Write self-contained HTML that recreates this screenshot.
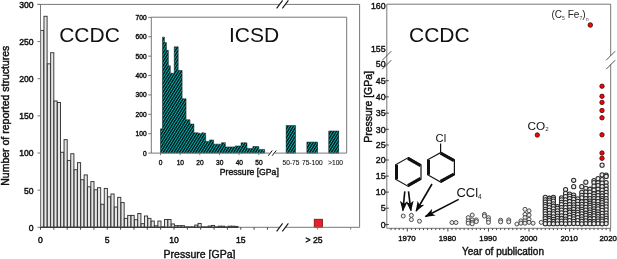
<!DOCTYPE html>
<html><head><meta charset="utf-8"><title>chart</title>
<style>html,body{margin:0;padding:0;background:#fff;}body{width:617px;height:259px;overflow:hidden;font-family:"Liberation Sans",sans-serif;}svg{display:block;will-change:transform;}svg text{font-family:"Liberation Sans",sans-serif;}</style>
</head><body>
<svg width="617" height="259" viewBox="0 0 617 259" >
<defs>
<pattern id="hatch" width="2.3" height="2.3" patternUnits="userSpaceOnUse" patternTransform="rotate(32)"><rect width="2.3" height="2.3" fill="#00b8b8"/><rect width="1.35" height="2.3" fill="#041010"/></pattern>
<marker id="ah" markerWidth="12" markerHeight="9" refX="9.5" refY="4.5" orient="auto" markerUnits="userSpaceOnUse"><path d="M0,0.6 L10.5,4.5 L0,8.4 L2.8,4.5 Z" fill="#0a0a0a"/></marker>
</defs>
<rect width="617" height="259" fill="#fff"/>
<g stroke="#333" stroke-width="0.95" fill="#e6e6e6">
<rect x="40.60" y="30.41" width="3.15" height="196.90"/>
<rect x="43.95" y="16.29" width="3.15" height="211.01"/>
<rect x="47.30" y="63.84" width="3.15" height="163.46"/>
<rect x="50.65" y="52.70" width="3.15" height="174.60"/>
<rect x="54.00" y="100.99" width="3.15" height="126.31"/>
<rect x="57.35" y="102.48" width="3.15" height="124.82"/>
<rect x="60.70" y="152.26" width="3.15" height="75.04"/>
<rect x="64.05" y="139.63" width="3.15" height="87.67"/>
<rect x="67.40" y="160.43" width="3.15" height="66.87"/>
<rect x="70.75" y="153.74" width="3.15" height="73.56"/>
<rect x="74.10" y="169.72" width="3.15" height="57.58"/>
<rect x="77.45" y="162.66" width="3.15" height="64.64"/>
<rect x="80.80" y="179.75" width="3.15" height="47.55"/>
<rect x="84.15" y="174.92" width="3.15" height="52.38"/>
<rect x="87.50" y="186.81" width="3.15" height="40.49"/>
<rect x="90.85" y="181.61" width="3.15" height="45.69"/>
<rect x="94.20" y="189.78" width="3.15" height="37.52"/>
<rect x="97.55" y="187.70" width="3.15" height="39.60"/>
<rect x="100.90" y="204.27" width="3.15" height="23.03"/>
<rect x="104.25" y="188.44" width="3.15" height="38.86"/>
<rect x="107.60" y="196.84" width="3.15" height="30.46"/>
<rect x="110.95" y="194.01" width="3.15" height="33.29"/>
<rect x="114.30" y="207.02" width="3.15" height="20.28"/>
<rect x="117.65" y="197.36" width="3.15" height="29.94"/>
<rect x="121.00" y="202.56" width="3.15" height="24.74"/>
<rect x="124.35" y="218.38" width="3.15" height="8.92"/>
<rect x="127.70" y="215.41" width="3.15" height="11.89"/>
<rect x="131.05" y="215.41" width="3.15" height="11.89"/>
<rect x="134.40" y="219.72" width="3.15" height="7.58"/>
<rect x="137.75" y="213.48" width="3.15" height="13.82"/>
<rect x="141.10" y="223.66" width="3.15" height="3.64"/>
<rect x="144.45" y="216.01" width="3.15" height="11.29"/>
<rect x="147.80" y="218.38" width="3.15" height="8.92"/>
<rect x="151.15" y="221.06" width="3.15" height="6.24"/>
<rect x="154.50" y="225.81" width="3.15" height="1.49"/>
<rect x="157.85" y="221.06" width="3.15" height="6.24"/>
<rect x="161.20" y="226.85" width="3.15" height="0.45"/>
<rect x="164.55" y="219.50" width="3.15" height="7.80"/>
<rect x="167.90" y="219.50" width="3.15" height="7.80"/>
<rect x="171.25" y="223.96" width="3.15" height="3.34"/>
<rect x="174.60" y="225.67" width="3.15" height="1.63"/>
<rect x="177.95" y="225.67" width="3.15" height="1.63"/>
<rect x="181.30" y="225.67" width="3.15" height="1.63"/>
<rect x="184.65" y="226.93" width="3.15" height="0.37"/>
<rect x="188.00" y="226.93" width="3.15" height="0.37"/>
<rect x="191.35" y="226.93" width="3.15" height="0.37"/>
<rect x="194.70" y="225.07" width="3.15" height="2.23"/>
<rect x="198.05" y="223.44" width="3.15" height="3.86"/>
<rect x="201.40" y="227.00" width="3.15" height="0.30"/>
<rect x="204.75" y="227.00" width="3.15" height="0.30"/>
<rect x="208.10" y="226.04" width="3.15" height="1.26"/>
<rect x="211.45" y="225.44" width="3.15" height="1.86"/>
<rect x="214.80" y="227.00" width="3.15" height="0.30"/>
<rect x="218.15" y="226.19" width="3.15" height="1.11"/>
<rect x="221.50" y="226.19" width="3.15" height="1.11"/>
<rect x="224.85" y="227.00" width="3.15" height="0.30"/>
<rect x="228.20" y="226.19" width="3.15" height="1.11"/>
<rect x="231.55" y="226.19" width="3.15" height="1.11"/>
<rect x="234.90" y="226.41" width="3.15" height="0.89"/>
</g>
<rect x="314.2" y="219.2" width="8.4" height="8.1" fill="#ee1c25" stroke="#5a1010" stroke-width="0.7"/>
<line x1="40.50" y1="4.40" x2="40.50" y2="227.30" stroke="#777" stroke-width="1" />
<line x1="40.50" y1="227.30" x2="279.50" y2="227.30" stroke="#777" stroke-width="1" />
<line x1="40.50" y1="227.30" x2="238.00" y2="227.30" stroke="#2a2a2a" stroke-width="1.1" />
<line x1="285.50" y1="227.30" x2="359.60" y2="227.30" stroke="#777" stroke-width="1" />
<line x1="37.50" y1="4.40" x2="279.50" y2="4.40" stroke="#777" stroke-width="1" />
<line x1="285.50" y1="4.40" x2="359.60" y2="4.40" stroke="#777" stroke-width="1" />
<line x1="359.60" y1="4.40" x2="359.60" y2="227.30" stroke="#777" stroke-width="1" />
<line x1="276.60" y1="8.40" x2="282.60" y2="0.40" stroke="#111" stroke-width="1.1" />
<line x1="282.40" y1="8.40" x2="288.40" y2="0.40" stroke="#111" stroke-width="1.1" />
<line x1="276.60" y1="231.30" x2="282.60" y2="223.30" stroke="#111" stroke-width="1.1" />
<line x1="282.40" y1="231.30" x2="288.40" y2="223.30" stroke="#111" stroke-width="1.1" />
<line x1="37.50" y1="227.30" x2="40.50" y2="227.30" stroke="#777" stroke-width="1" />
<text x="33.60" y="230.75" font-size="8.6" text-anchor="end" fill="#111" stroke="#111" stroke-width="0.45" >0</text>
<line x1="37.50" y1="190.15" x2="40.50" y2="190.15" stroke="#777" stroke-width="1" />
<text x="33.60" y="193.54" font-size="8.6" text-anchor="end" fill="#111" stroke="#111" stroke-width="0.45" >50</text>
<line x1="37.50" y1="153.00" x2="40.50" y2="153.00" stroke="#777" stroke-width="1" />
<text x="33.60" y="156.33" font-size="8.6" text-anchor="end" fill="#111" stroke="#111" stroke-width="0.45" >100</text>
<line x1="37.50" y1="115.85" x2="40.50" y2="115.85" stroke="#777" stroke-width="1" />
<text x="33.60" y="119.12" font-size="8.6" text-anchor="end" fill="#111" stroke="#111" stroke-width="0.45" >150</text>
<line x1="37.50" y1="78.70" x2="40.50" y2="78.70" stroke="#777" stroke-width="1" />
<text x="33.60" y="81.91" font-size="8.6" text-anchor="end" fill="#111" stroke="#111" stroke-width="0.45" >200</text>
<line x1="37.50" y1="41.55" x2="40.50" y2="41.55" stroke="#777" stroke-width="1" />
<text x="33.60" y="44.70" font-size="8.6" text-anchor="end" fill="#111" stroke="#111" stroke-width="0.45" >250</text>
<line x1="37.50" y1="4.40" x2="40.50" y2="4.40" stroke="#777" stroke-width="1" />
<text x="33.60" y="7.49" font-size="8.6" text-anchor="end" fill="#111" stroke="#111" stroke-width="0.45" >300</text>
<line x1="40.50" y1="227.30" x2="40.50" y2="229.70" stroke="#444" stroke-width="1" />
<line x1="53.85" y1="227.30" x2="53.85" y2="229.70" stroke="#444" stroke-width="1" />
<line x1="67.20" y1="227.30" x2="67.20" y2="229.70" stroke="#444" stroke-width="1" />
<line x1="80.55" y1="227.30" x2="80.55" y2="229.70" stroke="#444" stroke-width="1" />
<line x1="93.90" y1="227.30" x2="93.90" y2="229.70" stroke="#444" stroke-width="1" />
<line x1="107.25" y1="227.30" x2="107.25" y2="229.70" stroke="#444" stroke-width="1" />
<line x1="120.60" y1="227.30" x2="120.60" y2="229.70" stroke="#444" stroke-width="1" />
<line x1="133.95" y1="227.30" x2="133.95" y2="229.70" stroke="#444" stroke-width="1" />
<line x1="147.30" y1="227.30" x2="147.30" y2="229.70" stroke="#444" stroke-width="1" />
<line x1="160.65" y1="227.30" x2="160.65" y2="229.70" stroke="#444" stroke-width="1" />
<line x1="174.00" y1="227.30" x2="174.00" y2="229.70" stroke="#444" stroke-width="1" />
<line x1="187.35" y1="227.30" x2="187.35" y2="229.70" stroke="#444" stroke-width="1" />
<line x1="200.70" y1="227.30" x2="200.70" y2="229.70" stroke="#444" stroke-width="1" />
<line x1="214.05" y1="227.30" x2="214.05" y2="229.70" stroke="#444" stroke-width="1" />
<line x1="227.40" y1="227.30" x2="227.40" y2="229.70" stroke="#444" stroke-width="1" />
<line x1="240.75" y1="227.30" x2="240.75" y2="229.70" stroke="#444" stroke-width="1" />
<line x1="254.10" y1="227.30" x2="254.10" y2="229.70" stroke="#444" stroke-width="1" />
<line x1="267.45" y1="227.30" x2="267.45" y2="229.70" stroke="#444" stroke-width="1" />
<line x1="317.40" y1="227.30" x2="317.40" y2="229.50" stroke="#777" stroke-width="1" />
<line x1="350.70" y1="227.30" x2="350.70" y2="229.50" stroke="#777" stroke-width="1" />
<text x="40.50" y="243.00" font-size="8.6" text-anchor="middle" fill="#111" stroke="#111" stroke-width="0.45" >0</text>
<text x="107.25" y="243.00" font-size="8.6" text-anchor="middle" fill="#111" stroke="#111" stroke-width="0.45" >5</text>
<text x="174.00" y="243.00" font-size="8.6" text-anchor="middle" fill="#111" stroke="#111" stroke-width="0.45" >10</text>
<text x="240.75" y="243.00" font-size="8.6" text-anchor="middle" fill="#111" stroke="#111" stroke-width="0.45" >15</text>
<text x="314.00" y="243.00" font-size="8.6" text-anchor="middle" fill="#111" stroke="#111" stroke-width="0.45" >&gt; 25</text>
<text x="199.50" y="257.60" font-size="10.5" text-anchor="middle" fill="#111" stroke="#111" stroke-width="0.4" >Pressure [GPa]</text>
<text transform="translate(8.5,115.7) rotate(-90)" font-size="10.5" text-anchor="middle" fill="#111" stroke="#111" stroke-width="0.45">Number of reported structures</text>
<text x="59.20" y="42.30" font-size="21" text-anchor="start" fill="#111" stroke="#111" stroke-width="0" >CCDC</text>
<g fill="url(#hatch)" stroke="#061414" stroke-width="0.5">
<polygon points="160.50,153.10 160.50,128.86 162.47,128.86 162.47,37.15 164.43,37.15 164.43,42.58 166.40,42.58 166.40,50.33 168.36,50.33 168.36,65.84 170.33,65.84 170.32,73.21 172.29,73.21 172.29,73.21 174.25,73.21 174.25,46.84 176.22,46.84 176.22,46.84 178.19,46.84 178.19,70.50 180.15,70.50 180.15,70.50 182.12,70.50 182.12,98.81 184.08,98.81 184.08,98.81 186.05,98.81 186.05,119.75 188.01,119.75 188.01,119.75 189.97,119.75 189.97,124.01 191.94,124.01 191.94,124.01 193.91,124.01 193.91,132.74 195.87,132.74 195.87,132.74 197.84,132.74 197.84,133.13 199.80,133.13 199.80,133.71 201.77,133.71 201.76,132.74 203.73,132.74 203.73,133.13 205.70,133.13 205.69,141.47 207.66,141.47 207.66,141.47 209.62,141.47 209.62,139.91 211.59,139.91 211.59,139.91 213.56,139.91 213.56,144.18 215.52,144.18 215.52,144.18 217.49,144.18 217.49,144.18 219.45,144.18 219.45,144.18 221.41,144.18 221.41,142.63 223.38,142.63 223.38,142.63 225.34,142.63 225.34,146.90 227.31,146.90 227.31,146.90 229.28,146.90 229.28,146.90 231.24,146.90 231.24,146.90 233.21,146.90 233.20,146.90 235.17,146.90 235.17,145.93 237.14,145.93 237.13,145.93 239.10,145.93 239.10,145.93 241.07,145.93 241.06,142.82 243.03,142.82 243.03,142.82 245.00,142.82 245.00,142.82 246.96,142.82 246.96,148.45 248.93,148.45 248.93,148.45 250.89,148.45 250.89,148.45 252.85,148.45 252.86,146.51 254.82,146.51 254.82,146.51 256.78,146.51 256.79,146.51 258.75,146.51 258.75,149.42 260.71,149.42 260.72,149.42 262.68,149.42 262.68,149.42 264.64,149.42 264.64,153.10"/>
<rect x="286.1" y="125.57" width="9.40" height="27.53"/>
<rect x="306.9" y="142.05" width="10.80" height="11.05"/>
<rect x="328.8" y="131.00" width="10.00" height="22.10"/>
</g>
<line x1="151.30" y1="17.20" x2="151.30" y2="153.10" stroke="#777" stroke-width="1" />
<line x1="151.30" y1="17.20" x2="346.70" y2="17.20" stroke="#777" stroke-width="1" />
<line x1="346.70" y1="17.20" x2="346.70" y2="153.10" stroke="#777" stroke-width="1" />
<line x1="151.30" y1="153.10" x2="269.50" y2="153.10" stroke="#777" stroke-width="1" />
<line x1="275.00" y1="153.10" x2="346.70" y2="153.10" stroke="#777" stroke-width="1" />
<line x1="268.30" y1="155.70" x2="272.30" y2="150.50" stroke="#111" stroke-width="1" />
<line x1="272.20" y1="155.70" x2="276.20" y2="150.50" stroke="#111" stroke-width="1" />
<line x1="148.30" y1="153.10" x2="151.30" y2="153.10" stroke="#777" stroke-width="1" />
<text x="146.60" y="155.50" font-size="6.6" text-anchor="end" fill="#111" stroke="#111" stroke-width="0.4" >0</text>
<line x1="148.30" y1="133.71" x2="151.30" y2="133.71" stroke="#777" stroke-width="1" />
<text x="146.60" y="136.11" font-size="6.6" text-anchor="end" fill="#111" stroke="#111" stroke-width="0.4" >100</text>
<line x1="148.30" y1="114.32" x2="151.30" y2="114.32" stroke="#777" stroke-width="1" />
<text x="146.60" y="116.72" font-size="6.6" text-anchor="end" fill="#111" stroke="#111" stroke-width="0.4" >200</text>
<line x1="148.30" y1="94.93" x2="151.30" y2="94.93" stroke="#777" stroke-width="1" />
<text x="146.60" y="97.33" font-size="6.6" text-anchor="end" fill="#111" stroke="#111" stroke-width="0.4" >300</text>
<line x1="148.30" y1="75.54" x2="151.30" y2="75.54" stroke="#777" stroke-width="1" />
<text x="146.60" y="77.94" font-size="6.6" text-anchor="end" fill="#111" stroke="#111" stroke-width="0.4" >400</text>
<line x1="148.30" y1="56.15" x2="151.30" y2="56.15" stroke="#777" stroke-width="1" />
<text x="146.60" y="58.55" font-size="6.6" text-anchor="end" fill="#111" stroke="#111" stroke-width="0.4" >500</text>
<line x1="148.30" y1="36.76" x2="151.30" y2="36.76" stroke="#777" stroke-width="1" />
<text x="146.60" y="39.16" font-size="6.6" text-anchor="end" fill="#111" stroke="#111" stroke-width="0.4" >600</text>
<line x1="148.30" y1="17.37" x2="151.30" y2="17.37" stroke="#777" stroke-width="1" />
<text x="146.60" y="19.77" font-size="6.6" text-anchor="end" fill="#111" stroke="#111" stroke-width="0.4" >700</text>
<line x1="160.50" y1="153.10" x2="160.50" y2="155.10" stroke="#777" stroke-width="1" />
<text x="160.70" y="165.30" font-size="6.6" text-anchor="middle" fill="#111" stroke="#111" stroke-width="0.35" >0</text>
<line x1="180.15" y1="153.10" x2="180.15" y2="155.10" stroke="#777" stroke-width="1" />
<text x="180.35" y="165.30" font-size="6.6" text-anchor="middle" fill="#111" stroke="#111" stroke-width="0.35" >10</text>
<line x1="199.80" y1="153.10" x2="199.80" y2="155.10" stroke="#777" stroke-width="1" />
<text x="200.00" y="165.30" font-size="6.6" text-anchor="middle" fill="#111" stroke="#111" stroke-width="0.35" >20</text>
<line x1="219.45" y1="153.10" x2="219.45" y2="155.10" stroke="#777" stroke-width="1" />
<text x="219.65" y="165.30" font-size="6.6" text-anchor="middle" fill="#111" stroke="#111" stroke-width="0.35" >30</text>
<line x1="239.10" y1="153.10" x2="239.10" y2="155.10" stroke="#777" stroke-width="1" />
<text x="239.30" y="165.30" font-size="6.6" text-anchor="middle" fill="#111" stroke="#111" stroke-width="0.35" >40</text>
<line x1="258.75" y1="153.10" x2="258.75" y2="155.10" stroke="#777" stroke-width="1" />
<text x="258.95" y="165.30" font-size="6.6" text-anchor="middle" fill="#111" stroke="#111" stroke-width="0.35" >50</text>
<text x="291.00" y="165.30" font-size="6.6" text-anchor="middle" fill="#111" stroke="#111" stroke-width="0.1" >50-75</text>
<text x="312.30" y="165.30" font-size="6.6" text-anchor="middle" fill="#111" stroke="#111" stroke-width="0.1" >75-100</text>
<text x="335.60" y="165.30" font-size="6.6" text-anchor="middle" fill="#111" stroke="#111" stroke-width="0.1" >&gt;100</text>
<text x="249.30" y="174.70" font-size="8.65" text-anchor="middle" fill="#111" stroke="#111" stroke-width="0.4" >Pressure [GPa]</text>
<text x="229.00" y="42.30" font-size="21" text-anchor="start" fill="#111" stroke="#111" stroke-width="0" >ICSD</text>
<line x1="386.80" y1="4.20" x2="386.80" y2="228.30" stroke="#777" stroke-width="1" />
<line x1="386.80" y1="4.20" x2="610.70" y2="4.20" stroke="#777" stroke-width="1" />
<line x1="610.70" y1="4.20" x2="610.70" y2="55.80" stroke="#777" stroke-width="1" />
<line x1="610.70" y1="64.30" x2="610.70" y2="228.30" stroke="#777" stroke-width="1" />
<line x1="386.80" y1="228.30" x2="610.70" y2="228.30" stroke="#777" stroke-width="1" />
<line x1="382.30" y1="60.20" x2="391.30" y2="51.20" stroke="#555" stroke-width="1" />
<line x1="382.30" y1="69.20" x2="391.30" y2="60.20" stroke="#555" stroke-width="1" />
<line x1="606.20" y1="60.20" x2="615.20" y2="51.20" stroke="#555" stroke-width="1" />
<line x1="606.20" y1="69.20" x2="615.20" y2="60.20" stroke="#555" stroke-width="1" />
<line x1="385.30" y1="224.50" x2="388.80" y2="224.50" stroke="#444" stroke-width="1" />
<text x="385.60" y="227.70" font-size="8.8" text-anchor="end" fill="#111" stroke="#111" stroke-width="0.4" >0</text>
<line x1="385.30" y1="208.20" x2="388.80" y2="208.20" stroke="#444" stroke-width="1" />
<text x="385.60" y="211.40" font-size="8.8" text-anchor="end" fill="#111" stroke="#111" stroke-width="0.4" >5</text>
<line x1="385.30" y1="192.10" x2="388.80" y2="192.10" stroke="#444" stroke-width="1" />
<text x="385.60" y="195.30" font-size="8.8" text-anchor="end" fill="#111" stroke="#111" stroke-width="0.4" >10</text>
<line x1="385.30" y1="176.10" x2="388.80" y2="176.10" stroke="#444" stroke-width="1" />
<text x="385.60" y="179.30" font-size="8.8" text-anchor="end" fill="#111" stroke="#111" stroke-width="0.4" >15</text>
<line x1="385.30" y1="160.00" x2="388.80" y2="160.00" stroke="#444" stroke-width="1" />
<text x="385.60" y="163.20" font-size="8.8" text-anchor="end" fill="#111" stroke="#111" stroke-width="0.4" >20</text>
<line x1="385.30" y1="145.00" x2="388.80" y2="145.00" stroke="#444" stroke-width="1" />
<text x="385.60" y="148.20" font-size="8.8" text-anchor="end" fill="#111" stroke="#111" stroke-width="0.4" >25</text>
<line x1="385.30" y1="129.30" x2="388.80" y2="129.30" stroke="#444" stroke-width="1" />
<text x="385.60" y="132.50" font-size="8.8" text-anchor="end" fill="#111" stroke="#111" stroke-width="0.4" >30</text>
<line x1="385.30" y1="113.10" x2="388.80" y2="113.10" stroke="#444" stroke-width="1" />
<text x="385.60" y="116.30" font-size="8.8" text-anchor="end" fill="#111" stroke="#111" stroke-width="0.4" >35</text>
<line x1="385.30" y1="96.90" x2="388.80" y2="96.90" stroke="#444" stroke-width="1" />
<text x="385.60" y="100.10" font-size="8.8" text-anchor="end" fill="#111" stroke="#111" stroke-width="0.4" >40</text>
<line x1="385.30" y1="80.70" x2="388.80" y2="80.70" stroke="#444" stroke-width="1" />
<text x="385.60" y="83.90" font-size="8.8" text-anchor="end" fill="#111" stroke="#111" stroke-width="0.4" >45</text>
<text x="385.60" y="67.00" font-size="8.8" text-anchor="end" fill="#111" stroke="#111" stroke-width="0.4" >50</text>
<text x="385.60" y="52.40" font-size="8.8" text-anchor="end" fill="#111" stroke="#111" stroke-width="0.4" >155</text>
<text x="385.60" y="8.80" font-size="8.8" text-anchor="end" fill="#111" stroke="#111" stroke-width="0.4" >160</text>
<line x1="391.07" y1="228.30" x2="391.07" y2="230.10" stroke="#444" stroke-width="1" />
<line x1="395.13" y1="228.30" x2="395.13" y2="230.10" stroke="#444" stroke-width="1" />
<line x1="399.18" y1="228.30" x2="399.18" y2="230.10" stroke="#444" stroke-width="1" />
<line x1="403.24" y1="228.30" x2="403.24" y2="230.10" stroke="#444" stroke-width="1" />
<line x1="407.30" y1="228.30" x2="407.30" y2="231.50" stroke="#444" stroke-width="1" />
<text x="406.90" y="241.10" font-size="7.85" text-anchor="middle" fill="#111" stroke="#111" stroke-width="0.4" >1970</text>
<line x1="411.36" y1="228.30" x2="411.36" y2="230.10" stroke="#444" stroke-width="1" />
<line x1="415.42" y1="228.30" x2="415.42" y2="230.10" stroke="#444" stroke-width="1" />
<line x1="419.47" y1="228.30" x2="419.47" y2="230.10" stroke="#444" stroke-width="1" />
<line x1="423.53" y1="228.30" x2="423.53" y2="230.10" stroke="#444" stroke-width="1" />
<line x1="427.59" y1="228.30" x2="427.59" y2="230.10" stroke="#444" stroke-width="1" />
<line x1="431.65" y1="228.30" x2="431.65" y2="230.10" stroke="#444" stroke-width="1" />
<line x1="435.71" y1="228.30" x2="435.71" y2="230.10" stroke="#444" stroke-width="1" />
<line x1="439.76" y1="228.30" x2="439.76" y2="230.10" stroke="#444" stroke-width="1" />
<line x1="443.82" y1="228.30" x2="443.82" y2="230.10" stroke="#444" stroke-width="1" />
<line x1="447.88" y1="228.30" x2="447.88" y2="231.50" stroke="#444" stroke-width="1" />
<text x="447.48" y="241.10" font-size="7.85" text-anchor="middle" fill="#111" stroke="#111" stroke-width="0.4" >1980</text>
<line x1="451.94" y1="228.30" x2="451.94" y2="230.10" stroke="#444" stroke-width="1" />
<line x1="456.00" y1="228.30" x2="456.00" y2="230.10" stroke="#444" stroke-width="1" />
<line x1="460.05" y1="228.30" x2="460.05" y2="230.10" stroke="#444" stroke-width="1" />
<line x1="464.11" y1="228.30" x2="464.11" y2="230.10" stroke="#444" stroke-width="1" />
<line x1="468.17" y1="228.30" x2="468.17" y2="230.10" stroke="#444" stroke-width="1" />
<line x1="472.23" y1="228.30" x2="472.23" y2="230.10" stroke="#444" stroke-width="1" />
<line x1="476.29" y1="228.30" x2="476.29" y2="230.10" stroke="#444" stroke-width="1" />
<line x1="480.34" y1="228.30" x2="480.34" y2="230.10" stroke="#444" stroke-width="1" />
<line x1="484.40" y1="228.30" x2="484.40" y2="230.10" stroke="#444" stroke-width="1" />
<line x1="488.46" y1="228.30" x2="488.46" y2="231.50" stroke="#444" stroke-width="1" />
<text x="488.06" y="241.10" font-size="7.85" text-anchor="middle" fill="#111" stroke="#111" stroke-width="0.4" >1990</text>
<line x1="492.52" y1="228.30" x2="492.52" y2="230.10" stroke="#444" stroke-width="1" />
<line x1="496.58" y1="228.30" x2="496.58" y2="230.10" stroke="#444" stroke-width="1" />
<line x1="500.63" y1="228.30" x2="500.63" y2="230.10" stroke="#444" stroke-width="1" />
<line x1="504.69" y1="228.30" x2="504.69" y2="230.10" stroke="#444" stroke-width="1" />
<line x1="508.75" y1="228.30" x2="508.75" y2="230.10" stroke="#444" stroke-width="1" />
<line x1="512.81" y1="228.30" x2="512.81" y2="230.10" stroke="#444" stroke-width="1" />
<line x1="516.87" y1="228.30" x2="516.87" y2="230.10" stroke="#444" stroke-width="1" />
<line x1="520.92" y1="228.30" x2="520.92" y2="230.10" stroke="#444" stroke-width="1" />
<line x1="524.98" y1="228.30" x2="524.98" y2="230.10" stroke="#444" stroke-width="1" />
<line x1="529.04" y1="228.30" x2="529.04" y2="231.50" stroke="#444" stroke-width="1" />
<text x="528.64" y="241.10" font-size="7.85" text-anchor="middle" fill="#111" stroke="#111" stroke-width="0.4" >2000</text>
<line x1="533.10" y1="228.30" x2="533.10" y2="230.10" stroke="#444" stroke-width="1" />
<line x1="537.16" y1="228.30" x2="537.16" y2="230.10" stroke="#444" stroke-width="1" />
<line x1="541.21" y1="228.30" x2="541.21" y2="230.10" stroke="#444" stroke-width="1" />
<line x1="545.27" y1="228.30" x2="545.27" y2="230.10" stroke="#444" stroke-width="1" />
<line x1="549.33" y1="228.30" x2="549.33" y2="230.10" stroke="#444" stroke-width="1" />
<line x1="553.39" y1="228.30" x2="553.39" y2="230.10" stroke="#444" stroke-width="1" />
<line x1="557.45" y1="228.30" x2="557.45" y2="230.10" stroke="#444" stroke-width="1" />
<line x1="561.50" y1="228.30" x2="561.50" y2="230.10" stroke="#444" stroke-width="1" />
<line x1="565.56" y1="228.30" x2="565.56" y2="230.10" stroke="#444" stroke-width="1" />
<line x1="569.62" y1="228.30" x2="569.62" y2="231.50" stroke="#444" stroke-width="1" />
<text x="569.22" y="241.10" font-size="7.85" text-anchor="middle" fill="#111" stroke="#111" stroke-width="0.4" >2010</text>
<line x1="573.68" y1="228.30" x2="573.68" y2="230.10" stroke="#444" stroke-width="1" />
<line x1="577.74" y1="228.30" x2="577.74" y2="230.10" stroke="#444" stroke-width="1" />
<line x1="581.79" y1="228.30" x2="581.79" y2="230.10" stroke="#444" stroke-width="1" />
<line x1="585.85" y1="228.30" x2="585.85" y2="230.10" stroke="#444" stroke-width="1" />
<line x1="589.91" y1="228.30" x2="589.91" y2="230.10" stroke="#444" stroke-width="1" />
<line x1="593.97" y1="228.30" x2="593.97" y2="230.10" stroke="#444" stroke-width="1" />
<line x1="598.03" y1="228.30" x2="598.03" y2="230.10" stroke="#444" stroke-width="1" />
<line x1="602.08" y1="228.30" x2="602.08" y2="230.10" stroke="#444" stroke-width="1" />
<line x1="606.14" y1="228.30" x2="606.14" y2="230.10" stroke="#444" stroke-width="1" />
<line x1="610.20" y1="228.30" x2="610.20" y2="231.50" stroke="#444" stroke-width="1" />
<text x="608.20" y="241.10" font-size="7.85" text-anchor="middle" fill="#111" stroke="#111" stroke-width="0.4" >2020</text>
<text x="503.00" y="255.40" font-size="10" text-anchor="middle" fill="#111" stroke="#111" stroke-width="0.4" >Year of publication</text>
<text transform="translate(371.6,106.9) rotate(-90)" font-size="10.5" text-anchor="middle" fill="#111" stroke="#111" stroke-width="0.45">Pressure [GPa]</text>
<text x="409.00" y="42.40" font-size="21" text-anchor="start" fill="#111" stroke="#111" stroke-width="0" >CCDC</text>
<g fill="#ececec" stroke="#2c2c2c" stroke-width="1.05">
<circle cx="602.08" cy="165.15" r="2.1"/>
<circle cx="602.08" cy="174.81" r="2.1"/>
<circle cx="606.14" cy="175.13" r="2.1"/>
<circle cx="606.14" cy="176.42" r="2.1"/>
<circle cx="598.03" cy="178.66" r="2.1"/>
<circle cx="602.08" cy="179.62" r="2.1"/>
<circle cx="573.68" cy="180.26" r="2.1"/>
<circle cx="593.97" cy="180.58" r="2.1"/>
<circle cx="585.85" cy="182.18" r="2.1"/>
<circle cx="593.97" cy="182.50" r="2.1"/>
<circle cx="606.14" cy="182.50" r="2.1"/>
<circle cx="598.03" cy="182.82" r="2.1"/>
<circle cx="602.08" cy="183.14" r="2.1"/>
<circle cx="598.03" cy="185.70" r="2.1"/>
<circle cx="593.97" cy="186.02" r="2.1"/>
<circle cx="606.14" cy="186.02" r="2.1"/>
<circle cx="573.68" cy="186.66" r="2.1"/>
<circle cx="581.79" cy="186.66" r="2.1"/>
<circle cx="602.08" cy="186.66" r="2.1"/>
<circle cx="585.85" cy="188.26" r="2.1"/>
<circle cx="589.91" cy="189.22" r="2.1"/>
<circle cx="598.03" cy="189.22" r="2.1"/>
<circle cx="606.14" cy="189.22" r="2.1"/>
<circle cx="565.56" cy="189.54" r="2.1"/>
<circle cx="593.97" cy="190.18" r="2.1"/>
<circle cx="602.08" cy="190.18" r="2.1"/>
<circle cx="585.85" cy="192.10" r="2.1"/>
<circle cx="589.91" cy="192.10" r="2.1"/>
<circle cx="581.79" cy="192.42" r="2.1"/>
<circle cx="606.14" cy="192.42" r="2.1"/>
<circle cx="598.03" cy="192.74" r="2.1"/>
<circle cx="565.56" cy="193.39" r="2.1"/>
<circle cx="602.08" cy="193.39" r="2.1"/>
<circle cx="593.97" cy="193.71" r="2.1"/>
<circle cx="569.62" cy="194.03" r="2.1"/>
<circle cx="573.68" cy="195.00" r="2.1"/>
<circle cx="581.79" cy="195.32" r="2.1"/>
<circle cx="585.85" cy="195.32" r="2.1"/>
<circle cx="589.91" cy="195.32" r="2.1"/>
<circle cx="606.14" cy="195.32" r="2.1"/>
<circle cx="598.03" cy="195.64" r="2.1"/>
<circle cx="602.08" cy="195.96" r="2.1"/>
<circle cx="569.62" cy="196.20" r="2.1"/>
<circle cx="593.97" cy="196.29" r="2.1"/>
<circle cx="565.56" cy="196.61" r="2.1"/>
<circle cx="573.68" cy="197.25" r="2.1"/>
<circle cx="545.27" cy="197.25" r="2.1"/>
<circle cx="553.39" cy="197.25" r="2.1"/>
<circle cx="561.50" cy="197.90" r="2.1"/>
<circle cx="581.79" cy="197.90" r="2.1"/>
<circle cx="549.33" cy="198.22" r="2.1"/>
<circle cx="585.85" cy="198.54" r="2.1"/>
<circle cx="589.91" cy="198.54" r="2.1"/>
<circle cx="593.97" cy="198.54" r="2.1"/>
<circle cx="598.03" cy="198.54" r="2.1"/>
<circle cx="602.08" cy="198.54" r="2.1"/>
<circle cx="606.14" cy="198.54" r="2.1"/>
<circle cx="569.62" cy="198.55" r="2.1"/>
<circle cx="577.74" cy="198.86" r="2.1"/>
<circle cx="553.39" cy="199.02" r="2.1"/>
<circle cx="573.68" cy="199.39" r="2.1"/>
<circle cx="565.56" cy="199.87" r="2.1"/>
<circle cx="561.50" cy="199.87" r="2.1"/>
<circle cx="545.27" cy="199.92" r="2.1"/>
<circle cx="549.33" cy="200.01" r="2.1"/>
<circle cx="602.08" cy="200.47" r="2.1"/>
<circle cx="589.91" cy="201.02" r="2.1"/>
<circle cx="606.14" cy="201.14" r="2.1"/>
<circle cx="553.39" cy="201.15" r="2.1"/>
<circle cx="593.97" cy="201.23" r="2.1"/>
<circle cx="577.74" cy="201.28" r="2.1"/>
<circle cx="569.62" cy="201.46" r="2.1"/>
<circle cx="585.85" cy="201.46" r="2.1"/>
<circle cx="598.03" cy="201.54" r="2.1"/>
<circle cx="581.79" cy="201.77" r="2.1"/>
<circle cx="545.27" cy="202.05" r="2.1"/>
<circle cx="549.33" cy="202.12" r="2.1"/>
<circle cx="573.68" cy="202.35" r="2.1"/>
<circle cx="561.50" cy="202.37" r="2.1"/>
<circle cx="565.56" cy="202.54" r="2.1"/>
<circle cx="602.08" cy="202.70" r="2.1"/>
<circle cx="589.91" cy="203.24" r="2.1"/>
<circle cx="553.39" cy="203.77" r="2.1"/>
<circle cx="606.14" cy="204.04" r="2.1"/>
<circle cx="593.97" cy="204.16" r="2.1"/>
<circle cx="577.74" cy="204.32" r="2.1"/>
<circle cx="585.85" cy="204.35" r="2.1"/>
<circle cx="581.79" cy="204.41" r="2.1"/>
<circle cx="569.62" cy="204.55" r="2.1"/>
<circle cx="561.50" cy="204.55" r="2.1"/>
<circle cx="545.27" cy="204.56" r="2.1"/>
<circle cx="598.03" cy="204.58" r="2.1"/>
<circle cx="573.68" cy="204.81" r="2.1"/>
<circle cx="602.08" cy="205.14" r="2.1"/>
<circle cx="549.33" cy="205.19" r="2.1"/>
<circle cx="589.91" cy="205.30" r="2.1"/>
<circle cx="565.56" cy="205.32" r="2.1"/>
<circle cx="553.39" cy="206.22" r="2.1"/>
<circle cx="593.97" cy="206.35" r="2.1"/>
<circle cx="557.45" cy="206.59" r="2.1"/>
<circle cx="545.27" cy="206.66" r="2.1"/>
<circle cx="598.03" cy="206.67" r="2.1"/>
<circle cx="581.79" cy="206.85" r="2.1"/>
<circle cx="606.14" cy="206.93" r="2.1"/>
<circle cx="573.68" cy="207.13" r="2.1"/>
<circle cx="569.62" cy="207.27" r="2.1"/>
<circle cx="577.74" cy="207.30" r="2.1"/>
<circle cx="585.85" cy="207.31" r="2.1"/>
<circle cx="589.91" cy="207.41" r="2.1"/>
<circle cx="602.08" cy="207.47" r="2.1"/>
<circle cx="561.50" cy="207.62" r="2.1"/>
<circle cx="549.33" cy="207.66" r="2.1"/>
<circle cx="565.56" cy="207.70" r="2.1"/>
<circle cx="557.45" cy="208.35" r="2.1"/>
<circle cx="593.97" cy="208.79" r="2.1"/>
<circle cx="598.03" cy="208.90" r="2.1"/>
<circle cx="553.39" cy="208.95" r="2.1"/>
<circle cx="545.27" cy="209.26" r="2.1"/>
<circle cx="573.68" cy="209.34" r="2.1"/>
<circle cx="581.79" cy="209.36" r="2.1"/>
<circle cx="577.74" cy="209.75" r="2.1"/>
<circle cx="589.91" cy="209.84" r="2.1"/>
<circle cx="606.14" cy="209.89" r="2.1"/>
<circle cx="561.50" cy="210.00" r="2.1"/>
<circle cx="569.62" cy="210.08" r="2.1"/>
<circle cx="585.85" cy="210.20" r="2.1"/>
<circle cx="602.08" cy="210.28" r="2.1"/>
<circle cx="549.33" cy="210.34" r="2.1"/>
<circle cx="565.56" cy="210.70" r="2.1"/>
<circle cx="557.45" cy="210.75" r="2.1"/>
<circle cx="593.97" cy="211.24" r="2.1"/>
<circle cx="545.27" cy="211.41" r="2.1"/>
<circle cx="581.79" cy="211.45" r="2.1"/>
<circle cx="553.39" cy="211.64" r="2.1"/>
<circle cx="598.03" cy="211.85" r="2.1"/>
<circle cx="589.91" cy="212.10" r="2.1"/>
<circle cx="573.68" cy="212.22" r="2.1"/>
<circle cx="569.62" cy="212.23" r="2.1"/>
<circle cx="577.74" cy="212.27" r="2.1"/>
<circle cx="561.50" cy="212.85" r="2.1"/>
<circle cx="606.14" cy="213.01" r="2.1"/>
<circle cx="585.85" cy="213.22" r="2.1"/>
<circle cx="602.08" cy="213.26" r="2.1"/>
<circle cx="557.45" cy="213.31" r="2.1"/>
<circle cx="565.56" cy="213.38" r="2.1"/>
<circle cx="549.33" cy="213.42" r="2.1"/>
<circle cx="593.97" cy="213.59" r="2.1"/>
<circle cx="581.79" cy="213.81" r="2.1"/>
<circle cx="545.27" cy="213.87" r="2.1"/>
<circle cx="553.39" cy="213.91" r="2.1"/>
<circle cx="598.03" cy="214.22" r="2.1"/>
<circle cx="573.68" cy="214.37" r="2.1"/>
<circle cx="589.91" cy="214.40" r="2.1"/>
<circle cx="577.74" cy="214.64" r="2.1"/>
<circle cx="569.62" cy="215.01" r="2.1"/>
<circle cx="585.85" cy="215.36" r="2.1"/>
<circle cx="593.97" cy="215.83" r="2.1"/>
<circle cx="561.50" cy="215.85" r="2.1"/>
<circle cx="606.14" cy="215.94" r="2.1"/>
<circle cx="557.45" cy="216.00" r="2.1"/>
<circle cx="549.33" cy="216.16" r="2.1"/>
<circle cx="565.56" cy="216.27" r="2.1"/>
<circle cx="602.08" cy="216.37" r="2.1"/>
<circle cx="581.79" cy="216.51" r="2.1"/>
<circle cx="545.27" cy="216.52" r="2.1"/>
<circle cx="589.91" cy="216.56" r="2.1"/>
<circle cx="573.68" cy="216.58" r="2.1"/>
<circle cx="598.03" cy="216.66" r="2.1"/>
<circle cx="553.39" cy="216.85" r="2.1"/>
<circle cx="569.62" cy="217.59" r="2.1"/>
<circle cx="577.74" cy="217.63" r="2.1"/>
<circle cx="585.85" cy="218.16" r="2.1"/>
<circle cx="606.14" cy="218.26" r="2.1"/>
<circle cx="557.45" cy="218.42" r="2.1"/>
<circle cx="549.33" cy="218.48" r="2.1"/>
<circle cx="561.50" cy="218.48" r="2.1"/>
<circle cx="593.97" cy="218.56" r="2.1"/>
<circle cx="545.27" cy="218.68" r="2.1"/>
<circle cx="589.91" cy="218.71" r="2.1"/>
<circle cx="573.68" cy="218.84" r="2.1"/>
<circle cx="598.03" cy="218.85" r="2.1"/>
<circle cx="602.08" cy="219.01" r="2.1"/>
<circle cx="565.56" cy="219.05" r="2.1"/>
<circle cx="581.79" cy="219.10" r="2.1"/>
<circle cx="553.39" cy="219.26" r="2.1"/>
<circle cx="577.74" cy="220.57" r="2.1"/>
<circle cx="569.62" cy="220.66" r="2.1"/>
<circle cx="606.14" cy="220.69" r="2.1"/>
<circle cx="549.33" cy="220.69" r="2.1"/>
<circle cx="585.85" cy="220.89" r="2.1"/>
<circle cx="557.45" cy="220.95" r="2.1"/>
<circle cx="598.03" cy="221.03" r="2.1"/>
<circle cx="602.08" cy="221.12" r="2.1"/>
<circle cx="561.50" cy="221.17" r="2.1"/>
<circle cx="565.56" cy="221.18" r="2.1"/>
<circle cx="573.68" cy="221.41" r="2.1"/>
<circle cx="581.79" cy="221.43" r="2.1"/>
<circle cx="545.27" cy="221.45" r="2.1"/>
<circle cx="589.91" cy="221.46" r="2.1"/>
<circle cx="553.39" cy="221.47" r="2.1"/>
<circle cx="593.97" cy="221.56" r="2.1"/>
<circle cx="561.50" cy="223.51" r="2.1"/>
<circle cx="585.85" cy="223.51" r="2.1"/>
<circle cx="573.68" cy="223.52" r="2.1"/>
<circle cx="577.74" cy="223.58" r="2.1"/>
<circle cx="606.14" cy="223.59" r="2.1"/>
<circle cx="598.03" cy="223.62" r="2.1"/>
<circle cx="569.62" cy="223.62" r="2.1"/>
<circle cx="549.33" cy="223.64" r="2.1"/>
<circle cx="589.91" cy="223.65" r="2.1"/>
<circle cx="593.97" cy="223.67" r="2.1"/>
<circle cx="545.27" cy="223.69" r="2.1"/>
<circle cx="553.39" cy="223.71" r="2.1"/>
<circle cx="557.45" cy="223.75" r="2.1"/>
<circle cx="581.79" cy="223.76" r="2.1"/>
<circle cx="565.56" cy="223.77" r="2.1"/>
<circle cx="602.08" cy="223.78" r="2.1"/>
</g>
<g fill="#eee" stroke="#3c3c3c" stroke-width="0.9">
<circle cx="524.98" cy="209.34" r="2.0"/>
<circle cx="529.04" cy="210.81" r="2.0"/>
<circle cx="484.40" cy="214.39" r="2.0"/>
<circle cx="524.98" cy="214.39" r="2.0"/>
<circle cx="472.23" cy="215.05" r="2.0"/>
<circle cx="529.04" cy="215.05" r="2.0"/>
<circle cx="411.36" cy="215.37" r="2.0"/>
<circle cx="403.24" cy="216.02" r="2.0"/>
<circle cx="484.40" cy="216.02" r="2.0"/>
<circle cx="468.17" cy="217.65" r="2.0"/>
<circle cx="488.46" cy="217.65" r="2.0"/>
<circle cx="524.98" cy="217.65" r="2.0"/>
<circle cx="529.04" cy="219.28" r="2.0"/>
<circle cx="411.36" cy="219.61" r="2.0"/>
<circle cx="472.23" cy="219.94" r="2.0"/>
<circle cx="476.29" cy="219.94" r="2.0"/>
<circle cx="488.46" cy="219.94" r="2.0"/>
<circle cx="508.75" cy="219.94" r="2.0"/>
<circle cx="500.63" cy="220.26" r="2.0"/>
<circle cx="468.17" cy="220.91" r="2.0"/>
<circle cx="520.92" cy="220.91" r="2.0"/>
<circle cx="524.98" cy="220.91" r="2.0"/>
<circle cx="419.47" cy="221.24" r="2.0"/>
<circle cx="476.29" cy="221.57" r="2.0"/>
<circle cx="500.63" cy="221.89" r="2.0"/>
<circle cx="508.75" cy="221.89" r="2.0"/>
<circle cx="472.23" cy="222.38" r="2.0"/>
<circle cx="488.46" cy="222.38" r="2.0"/>
<circle cx="529.04" cy="222.38" r="2.0"/>
<circle cx="541.21" cy="222.38" r="2.0"/>
<circle cx="451.94" cy="222.54" r="2.0"/>
<circle cx="456.00" cy="222.54" r="2.0"/>
<circle cx="468.17" cy="223.20" r="2.0"/>
<circle cx="520.92" cy="223.20" r="2.0"/>
<circle cx="524.98" cy="223.20" r="2.0"/>
<circle cx="533.10" cy="223.20" r="2.0"/>
<circle cx="472.23" cy="223.85" r="2.0"/>
<circle cx="516.87" cy="224.01" r="2.0"/>
</g>
<g fill="#f00" stroke="#3a0a0a" stroke-width="0.8">
<circle cx="602" cy="86.2" r="2.2"/>
<circle cx="602" cy="96.3" r="2.2"/>
<circle cx="602" cy="102.4" r="2.2"/>
<circle cx="602" cy="110.5" r="2.2"/>
<circle cx="602" cy="117.8" r="2.2"/>
<circle cx="602" cy="134.8" r="2.2"/>
<circle cx="602" cy="153" r="2.2"/>
<circle cx="602" cy="158.3" r="2.2"/>
<circle cx="537.3" cy="135" r="2.2"/>
<circle cx="590.3" cy="25" r="2.3"/>
</g>
<text x="527.6" y="129.7" font-size="11.8" fill="#111">CO<tspan font-size="6.2" dy="1.5" fill="#333">2</tspan></text>
<text x="456.4" y="197" font-size="13" fill="#111">CCl<tspan font-size="6.4" dy="1.8" fill="#222">4</tspan></text>
<text x="435.6" y="142" font-size="11.2" fill="#111">Cl</text>
<text x="551.5" y="18.4" font-size="10" fill="#222">(C<tspan font-size="5.2" dy="1.6" fill="#444">5</tspan><tspan dy="-1.6"> Fe</tspan><tspan font-size="5.2" dy="1.6" fill="#444">7</tspan><tspan dy="-1.6">)</tspan><tspan font-size="5.2" dy="2.4" fill="#444">n</tspan></text>
<polygon points="408.30,157.60 421.00,164.80 421.00,179.20 408.30,186.40 395.60,179.20 395.60,164.80" fill="none" stroke="#111" stroke-width="1.2" stroke-linejoin="miter"/>
<line x1="407.84" y1="158.38" x2="420.54" y2="165.58" stroke="#111" stroke-width="3" stroke-linecap="butt"/>
<line x1="420.54" y1="178.42" x2="407.84" y2="185.62" stroke="#111" stroke-width="3" stroke-linecap="butt"/>
<line x1="396.50" y1="179.20" x2="396.50" y2="164.80" stroke="#111" stroke-width="3" stroke-linecap="butt"/>
<polygon points="441.00,152.40 454.40,159.85 454.40,174.75 441.00,182.20 427.60,174.75 427.60,159.85" fill="none" stroke="#111" stroke-width="1.2" stroke-linejoin="miter"/>
<line x1="440.54" y1="153.17" x2="453.94" y2="160.62" stroke="#111" stroke-width="3" stroke-linecap="butt"/>
<line x1="453.94" y1="173.98" x2="440.54" y2="181.43" stroke="#111" stroke-width="3" stroke-linecap="butt"/>
<line x1="428.50" y1="174.75" x2="428.50" y2="159.85" stroke="#111" stroke-width="3" stroke-linecap="butt"/>
<line x1="440.60" y1="143.60" x2="440.60" y2="152.60" stroke="#111" stroke-width="1.2" />
<line x1="404.8" y1="191.3" x2="402.9" y2="210.5" stroke="#0a0a0a" stroke-width="1.6" marker-end="url(#ah)"/>
<line x1="408.5" y1="191.3" x2="410.9" y2="210.5" stroke="#0a0a0a" stroke-width="1.6" marker-end="url(#ah)"/>
<line x1="432" y1="184" x2="416.2" y2="211" stroke="#0a0a0a" stroke-width="1.6" marker-end="url(#ah)"/>
<line x1="458.7" y1="199.4" x2="425.5" y2="216.5" stroke="#0a0a0a" stroke-width="1.6" marker-end="url(#ah)"/>
</svg>
</body></html>
